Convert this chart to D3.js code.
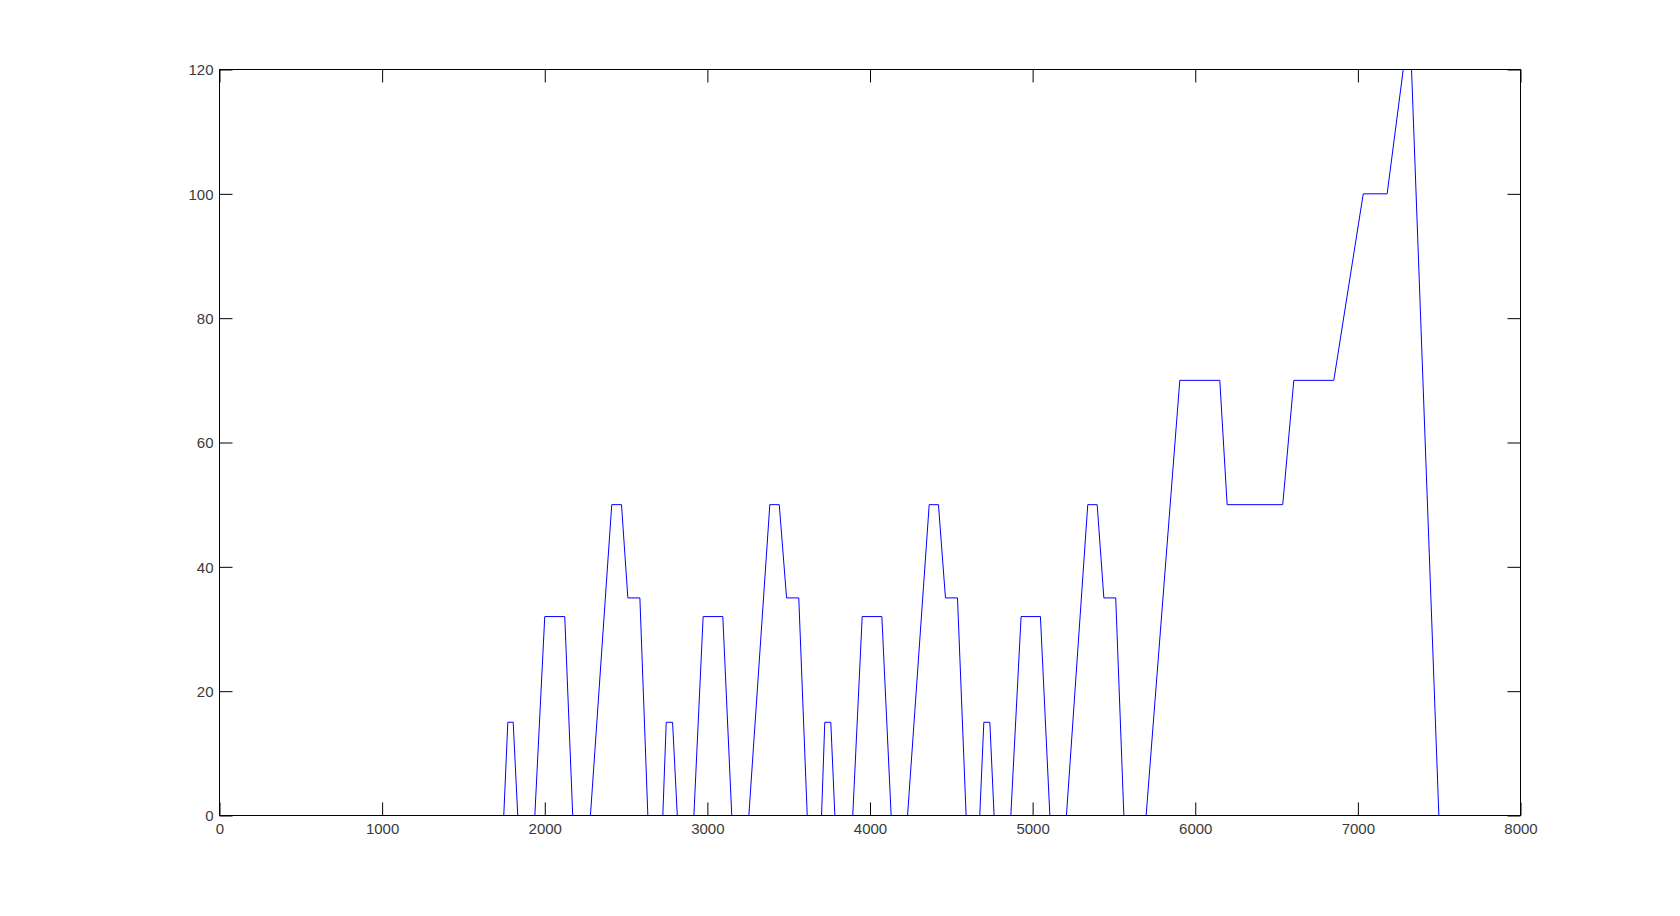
<!DOCTYPE html>
<html>
<head>
<meta charset="utf-8">
<script src="https://cdn.jsdelivr.net/npm/d3@7"></script>
<style>
  html, body { margin: 0; padding: 0; background: #fff; }
  svg { display: block; }
  .tick text { font-family: "Liberation Sans", Arial, sans-serif; font-size: 15px; fill: #3a3a3a; }
</style>
</head>
<body>
<svg id="chart" width="1680" height="916"></svg>
<script>
// ---- data ----
const xValues = [0, 1748, 1773, 1806, 1834,
  1939, 2000, 2123, 2172,
  2281, 2412, 2472, 2511, 2585, 2634,
  2726, 2747, 2786, 2815,
  2917, 2974, 3095, 3150,
  3255, 3384, 3442, 3487, 3562, 3614,
  3702, 3722, 3759, 3784,
  3894, 3952, 4073, 4130,
  4231, 4364, 4421, 4464, 4538, 4591,
  4675, 4700, 4737, 4763,
  4866, 4929, 5048, 5106,
  5208, 5339, 5397, 5438, 5511, 5561,
  5698, 5905, 6151, 6196, 6538, 6606, 6852, 7033, 7180, 7279, 7330, 7498];
const yValues = [0, 0, 15, 15, 0,
  0, 32, 32, 0,
  0, 50, 50, 35, 35, 0,
  0, 15, 15, 0,
  0, 32, 32, 0,
  0, 50, 50, 35, 35, 0,
  0, 15, 15, 0,
  0, 32, 32, 0,
  0, 50, 50, 35, 35, 0,
  0, 15, 15, 0,
  0, 32, 32, 0,
  0, 50, 50, 35, 35, 0,
  0, 70, 70, 50, 50, 70, 70, 100, 100, 120, 120, 0];
const xTicks = [0, 1000, 2000, 3000, 4000, 5000, 6000, 7000, 8000];
const yTicks = [0, 20, 40, 60, 80, 100, 120];
const xDomain = [0, 8000];
const yDomain = [0, 120];

// ---- layout ----
const padL = 219.5, padR = 1520.5, padT = 69.5, padB = 815.5;
const svg = d3.select("#chart");
const x = d3.scaleLinear().domain(xDomain).range([padL, padR]);
const y = d3.scaleLinear().domain(yDomain).range([padB, padT]);

const points = xValues.map((v, i) => [v, yValues[i]]);

svg.append("path")
  .datum(points)
  .attr("fill", "none")
  .attr("stroke", "#0000ff")
  .attr("stroke-width", 1)
  .attr("d", d3.line().x(d => x(d[0])).y(d => y(d[1])));

const tickLen = 13;
const gB = svg.append("g").attr("transform", `translate(0,${padB})`)
  .call(d3.axisBottom(x).tickValues(xTicks).tickFormat(d3.format("d")).tickSizeInner(-tickLen).tickSizeOuter(0).tickPadding(8));
const gT = svg.append("g").attr("transform", `translate(0,${padT})`)
  .call(d3.axisTop(x).tickValues(xTicks).tickFormat("").tickSizeInner(-tickLen).tickSizeOuter(0));
const gL = svg.append("g").attr("transform", `translate(${padL},0)`)
  .call(d3.axisLeft(y).tickValues(yTicks).tickFormat(d3.format("d")).tickSizeInner(-tickLen).tickSizeOuter(0).tickPadding(6));
const gR = svg.append("g").attr("transform", `translate(${padR},0)`)
  .call(d3.axisRight(y).tickValues(yTicks).tickFormat("").tickSizeInner(-tickLen).tickSizeOuter(0));

[gB, gT, gL, gR].forEach(g => {
  g.select(".domain").remove();
  g.selectAll(".tick line").attr("stroke", "#000").attr("stroke-width", 1);
});
gL.selectAll(".tick text").attr("dy", "0.36em");

svg.append("rect")
  .attr("x", padL).attr("y", padT)
  .attr("width", padR - padL).attr("height", padB - padT)
  .attr("fill", "none").attr("stroke", "#000").attr("stroke-width", 1);
</script>
</body>
</html>
